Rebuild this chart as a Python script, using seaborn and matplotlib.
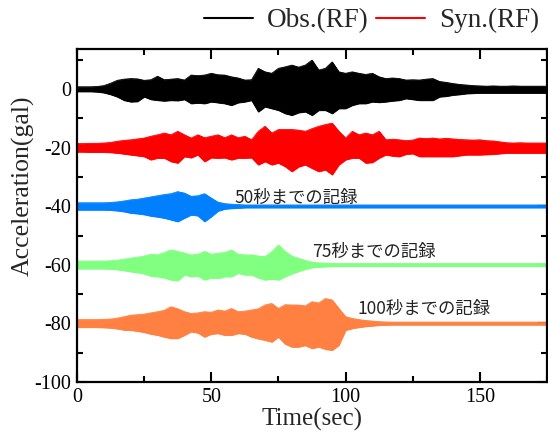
import numpy as np
import pandas as pd
import matplotlib
matplotlib.use("Agg")
import matplotlib.pyplot as plt
from matplotlib.lines import Line2D
from matplotlib.ticker import MultipleLocator
import seaborn as sns

# time grid (sec) of the envelope readings
time = np.arange(0, 175.01, 2.5)

# offsets of each trace (gal)
offsets = [0, -20, -40, -60, -80]
names = ["Obs.(RF)", "Syn.(RF)", "50s", "75s", "100s"]
colors = ["#000000", "#ff0000", "#0080ff", "#80ff80", "#ff8040"]

# upper / lower peak amplitudes (gal)
obs_up = [0.8, 0.8, 0.8, 0.9, 1.2, 2.0, 3.0, 3.4, 3.6, 3.5, 3.0, 3.2, 4.4, 3.2, 3.4, 3.6, 3.1, 4.8, 4.6, 4.8,
          5.4, 4.9, 4.8, 4.2, 3.8, 3.1, 3.2, 7.1, 5.9, 5.4, 7.1, 7.6, 8.2, 7.5, 8.2, 9.9, 6.5, 7.1, 9.3, 5.9,
          5.4, 5.9, 5.4, 5.0, 5.4, 4.2, 3.6, 3.8, 3.6, 3.1, 3.2, 3.1, 3.4, 3.6, 2.6, 2.3, 1.9, 1.6, 1.4, 1.2,
          1.1, 1.0, 1.1, 1.0, 1.0, 1.1, 1.0, 1.0, 1.0, 1.0, 1.0]
obs_dn = [0.8, 0.8, 0.8, 0.9, 1.2, 1.8, 2.6, 3.8, 4.3, 4.2, 2.6, 3.5, 3.8, 4.0, 3.8, 3.9, 3.5, 4.9, 4.7, 4.9,
          4.3, 4.6, 4.9, 5.5, 4.6, 4.3, 3.8, 7.7, 6.0, 6.6, 7.2, 8.3, 8.9, 8.0, 7.7, 8.9, 7.2, 7.2, 8.3, 6.6,
          6.6, 5.5, 4.9, 4.9, 4.3, 4.5, 4.3, 4.0, 3.8, 3.2, 3.5, 3.8, 3.8, 3.8, 2.6, 2.4, 2.0, 1.8, 1.5, 1.4,
          1.3, 1.3, 1.3, 1.3, 1.3, 1.3, 1.3, 1.3, 1.3, 1.3, 1.3]
syn_up = [1.4, 1.4, 1.5, 1.5, 1.6, 1.8, 2.2, 2.5, 2.7, 3.0, 3.3, 3.9, 4.4, 5.0, 4.4, 5.6, 4.4, 3.3, 4.4, 3.4,
          3.9, 4.4, 3.4, 4.4, 3.4, 3.9, 2.7, 5.6, 7.3, 5.0, 6.2, 6.2, 6.2, 6.0, 5.6, 6.5, 7.3, 7.9, 8.4, 5.6,
          3.3, 5.6, 4.4, 5.0, 4.4, 5.6, 2.7, 2.9, 2.7, 2.4, 2.6, 3.3, 3.1, 3.3, 3.0, 3.2, 3.0, 2.8, 2.7, 2.6,
          2.7, 2.4, 2.3, 2.0, 1.7, 1.6, 1.7, 1.6, 1.6, 1.6, 1.6]
syn_dn = [1.4, 1.4, 1.5, 1.5, 1.5, 1.6, 1.8, 2.1, 2.4, 2.7, 3.0, 4.1, 3.5, 3.5, 4.7, 5.2, 3.0, 3.4, 2.4, 4.7,
          3.4, 3.5, 3.4, 4.1, 3.5, 3.5, 3.4, 5.8, 4.7, 5.8, 5.2, 6.4, 8.1, 6.5, 5.8, 7.0, 8.1, 7.5, 9.2, 5.8,
          4.1, 3.5, 3.5, 5.2, 5.0, 3.5, 2.4, 2.8, 3.0, 2.2, 2.0, 3.0, 3.0, 3.0, 3.0, 3.0, 3.0, 2.7, 2.4, 2.4,
          2.4, 2.3, 2.2, 2.0, 1.8, 1.8, 1.8, 1.8, 1.8, 1.8, 1.8]
r50_up = [1.2, 1.2, 1.2, 1.2, 1.2, 1.3, 1.5, 1.8, 2.2, 2.4, 2.8, 3.2, 3.6, 4.0, 4.3, 5.0, 4.5, 3.4, 3.6, 4.3,
          2.8, 1.4, 0.9, 0.7, 0.6] + [0.45] * 46
r50_dn = [1.2, 1.2, 1.2, 1.2, 1.2, 1.3, 1.5, 1.8, 2.3, 2.5, 2.8, 3.3, 3.6, 4.0, 4.6, 5.2, 4.0, 2.9, 3.2, 5.2,
          3.5, 1.6, 0.9, 0.7, 0.6] + [0.45] * 46
r75_up = [1.3, 1.3, 1.3, 1.3, 1.3, 1.4, 1.6, 1.9, 2.3, 2.6, 3.0, 3.6, 3.4, 4.2, 5.1, 4.6, 4.0, 3.4, 3.6, 4.6,
          3.6, 4.0, 4.2, 5.1, 3.6, 3.4, 3.4, 3.0, 2.8, 4.5, 6.8, 4.6, 3.0, 2.2, 1.5, 0.9, 0.7, 0.6, 0.5] + [0.45] * 32
r75_dn = [1.3, 1.3, 1.3, 1.3, 1.3, 1.4, 1.6, 1.9, 2.3, 2.6, 3.0, 3.8, 4.0, 4.4, 5.1, 5.4, 3.4, 4.0, 3.8, 5.1,
          4.4, 4.6, 4.0, 4.0, 2.8, 3.4, 3.4, 4.4, 5.1, 4.8, 5.1, 4.0, 3.0, 2.2, 1.5, 0.9, 0.7, 0.6, 0.5] + [0.45] * 32
r100_up = [1.3, 1.3, 1.3, 1.3, 1.4, 1.5, 1.8, 2.3, 2.8, 3.0, 3.2, 3.6, 4.0, 4.5, 5.7, 5.0, 4.0, 3.4, 3.6, 4.0,
           3.8, 4.6, 4.2, 5.1, 4.0, 4.2, 4.6, 5.0, 6.3, 6.8, 5.1, 6.4, 6.3, 6.3, 6.0, 7.4, 7.0, 8.5, 8.0, 5.1,
           2.3, 1.7, 1.3, 1.0, 0.8, 0.6, 0.5] + [0.45] * 24
r100_dn = [1.3, 1.3, 1.3, 1.3, 1.4, 1.5, 1.8, 2.2, 2.3, 2.6, 3.0, 3.6, 4.0, 4.6, 5.1, 5.1, 4.0, 2.8, 3.2, 4.6,
           3.6, 3.4, 4.0, 4.0, 3.4, 3.6, 4.6, 5.2, 5.7, 6.3, 4.6, 7.0, 8.0, 8.0, 7.5, 8.5, 8.0, 8.8, 9.1, 7.4,
           2.3, 1.7, 1.3, 1.0, 0.8, 0.6, 0.5] + [0.45] * 24

ups = [obs_up, syn_up, r50_up, r75_up, r100_up]
dns = [obs_dn, syn_dn, r50_dn, r75_dn, r100_dn]

annot_texts = ["50秒までの記録", "75秒までの記録", "100秒までの記録"]
annot_x = [58.5, 87.5, 104.5]
annot_y = [-37.0, -55.6, -75.2]

xticks = [0, 50, 100, 150]
yticks = [0, -20, -40, -60, -80, -100]

# ---- build long table ----
rows = []
for name, off, up, dn in zip(names, offsets, ups, dns):
    for t, u, d in zip(time, up, dn):
        rows.append({"name": name, "time": t, "upper": off + u, "lower": off - d})
df = pd.DataFrame(rows)

sns.set_theme(style="ticks")
plt.rcParams["font.family"] = ["Liberation Serif", "DejaVu Serif"]
plt.rcParams["mathtext.default"] = "regular"

fig = plt.figure(figsize=(5.48, 4.34), dpi=100)
ax = fig.add_axes([77 / 548, 52 / 434, 470 / 548, 333 / 434])

palette = dict(zip(names, colors))
for name in names:
    sub = df[df["name"] == name]
    c = palette[name]
    ax.fill_between(sub["time"], sub["lower"], sub["upper"], color=c, lw=0.6, edgecolor=c)
sns.lineplot(data=df, x="time", y="upper", hue="name", palette=palette, lw=0.6,
             legend=False, ax=ax, estimator=None)
sns.lineplot(data=df, x="time", y="lower", hue="name", palette=palette, lw=0.6,
             legend=False, ax=ax, estimator=None)

for txt, x, y in zip(annot_texts, annot_x, annot_y):
    ax.text(x, y, txt, fontsize=12.5, va="center", ha="left", color="#222222",
            family=["Noto Sans CJK JP", "DejaVu Sans"])

ax.set_xlim(0, 175)
ax.set_ylim(-100, 13.7)
ax.set_xticks(xticks)
ax.set_xticklabels([str(v) for v in xticks])
ax.set_yticks(yticks)
ax.set_yticklabels([str(v) for v in yticks])
ax.xaxis.set_minor_locator(MultipleLocator(25))
ax.yaxis.set_minor_locator(MultipleLocator(10))
ax.tick_params(which="both", direction="in", top=True, right=True, width=1.5, colors="black",
               labelsize=14.5, pad=4)
ax.tick_params(which="major", length=7.5)
ax.tick_params(which="minor", length=4)
for s in ax.spines.values():
    s.set_linewidth(1.6)
    s.set_color("black")

ax.set_xlabel("Time(sec)", fontsize=18, labelpad=1)
ax.set_ylabel("Acceleration(gal)", fontsize=18.5)
ax.yaxis.set_label_coords(-0.09, 0.59)

handles = [Line2D([0], [0], color="#000000", lw=1.5), Line2D([0], [0], color="#ff0000", lw=1.5)]
fig.legend(handles, ["Obs.(RF)", "Syn.(RF)"], loc="center right", bbox_to_anchor=(1.008, 0.952),
           ncol=2, frameon=False, fontsize=19.5, handlelength=1.8, columnspacing=0.3,
           handletextpad=0.5, borderaxespad=0.1)

fig.savefig("out.png", dpi=100)
